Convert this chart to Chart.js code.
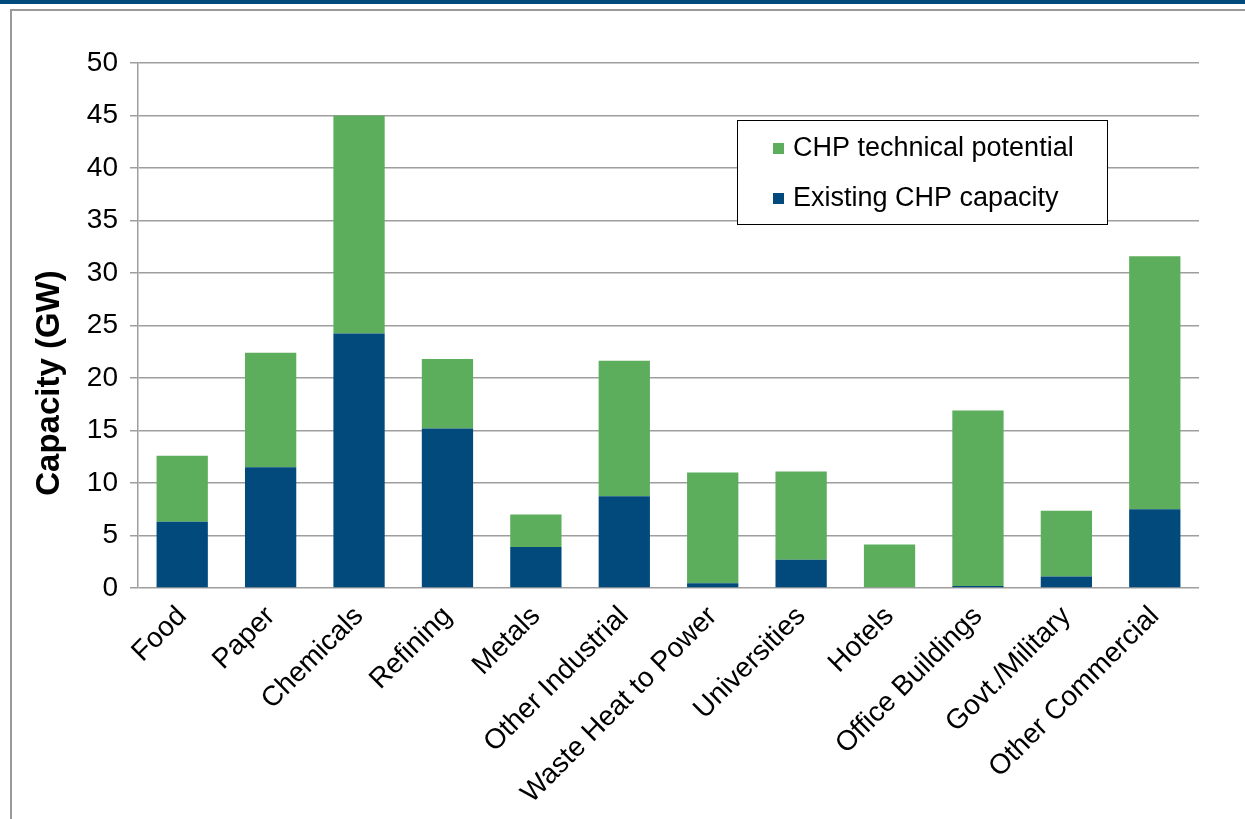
<!DOCTYPE html>
<html>
<head>
<meta charset="utf-8">
<script src="https://cdn.jsdelivr.net/npm/chart.js@4/dist/chart.umd.min.js"></script>
<style>
    body { margin: 0; background: #fff; overflow: hidden; }
    .band { position: absolute; left: 0; top: 0; width: 1245px; height: 4px; background: #004b7c; }
    .frame { position: absolute; left: 10px; top: 9px; width: 1250px; height: 830px;
             border: 2px solid #9a9a9a; box-shadow: 1px 1px 0 #cfcfcf; }
    #capChart { position: absolute; left: 0; top: 0; }
</style>
</head>
<body>
<div class="band"></div>
<div class="frame"></div>
<canvas id="capChart" width="1245" height="819"></canvas>
<script>
// Categories and stacked values (GW)
var categories = ["Food", "Paper", "Chemicals", "Refining", "Metals", "Other Industrial",
    "Waste Heat to Power", "Universities", "Hotels", "Office Buildings", "Govt./Military", "Other Commercial"];
var existingCapacity = [6.3, 11.5, 24.25, 15.2, 3.9, 8.75, 0.45, 2.7, 0, 0.2, 1.1, 7.5];
var technicalPotential = [6.3, 10.9, 20.75, 6.6, 3.1, 12.9, 10.55, 8.4, 4.15, 16.7, 6.25, 24.1];
var yTicks = [0, 5, 10, 15, 20, 25, 30, 35, 40, 45, 50];

var FONT = "'Liberation Sans', Arial, sans-serif";
var BLUE = "#024a7c";
var GREEN = "#5cad5c";

document.addEventListener("DOMContentLoaded", function () {
    // legend box floating inside the plot + rotated axis title
    var extras = {
        id: "extras",
        afterDraw: function (chart) {
            var ctx = chart.ctx;
            var area = chart.chartArea;
            ctx.save();

            // axis title
            ctx.translate(50, 383);
            ctx.rotate(-Math.PI / 2);
            ctx.font = "bold 33px " + FONT;
            ctx.fillStyle = "#000";
            ctx.textAlign = "center";
            ctx.textBaseline = "middle";
            ctx.fillText("Capacity (GW)", 0, 0);
            ctx.restore();

            // legend (potential listed first)
            ctx.save();
            var bx = area.left + 599, by = area.top + 57, bw = 370, bh = 104;
            ctx.fillStyle = "#fff";
            ctx.fillRect(bx, by, bw, bh);
            ctx.strokeStyle = "#000";
            ctx.lineWidth = 1;
            ctx.strokeRect(bx + 0.5, by + 0.5, bw, bh);
            var items = [chart.data.datasets[1], chart.data.datasets[0]];
            ctx.font = "27px " + FONT;
            ctx.textBaseline = "middle";
            items.forEach(function (ds, i) {
                var cy = by + 28 + i * 50;
                ctx.fillStyle = ds.backgroundColor;
                ctx.fillRect(bx + 36, cy - 5, 11, 11);
                ctx.fillStyle = "#000";
                ctx.fillText(ds.label, bx + 56, cy + 1);
            });
            ctx.restore();
        }
    };

    var ctx = document.getElementById("capChart").getContext("2d");
    var capChart = new Chart(ctx, {
        type: "bar",
        data: {
            labels: categories,
            datasets: [{
                label: "Existing CHP capacity",
                data: existingCapacity,
                backgroundColor: BLUE,
                borderWidth: 0
            }, {
                label: "CHP technical potential",
                data: technicalPotential,
                backgroundColor: GREEN,
                borderWidth: 0
            }]
        },
        options: {
            responsive: false,
            animation: false,
            layout: { padding: { left: 0, top: 63, right: 46, bottom: 0 } },
            datasets: { bar: { categoryPercentage: 1, barPercentage: 0.58 } },
            plugins: {
                legend: { display: false },
                tooltip: { enabled: false }
            },
            scales: {
                x: {
                    stacked: true,
                    grid: { display: false },
                    border: { display: false },
                    ticks: {
                        color: "#000",
                        font: { family: FONT, size: 28 },
                        minRotation: 45,
                        maxRotation: 45,
                        autoSkip: false,
                        padding: 4
                    },
                    afterFit: function (scale) { scale.height = 231; }
                },
                y: {
                    stacked: true,
                    min: yTicks[0],
                    max: yTicks[yTicks.length - 1],
                    afterBuildTicks: function (scale) {
                        scale.ticks = yTicks.map(function (v) { return { value: v }; });
                    },
                    grid: { color: "#9e9e9e", lineWidth: 1.5, tickLength: 8 },
                    border: { display: true, color: "#9e9e9e", width: 1.5 },
                    ticks: {
                        color: "#000",
                        font: { family: FONT, size: 28 },
                        padding: 12
                    },
                    afterFit: function (scale) { scale.width = 138; }
                }
            }
        },
        plugins: [extras]
    });
});
</script>
</body>
</html>
